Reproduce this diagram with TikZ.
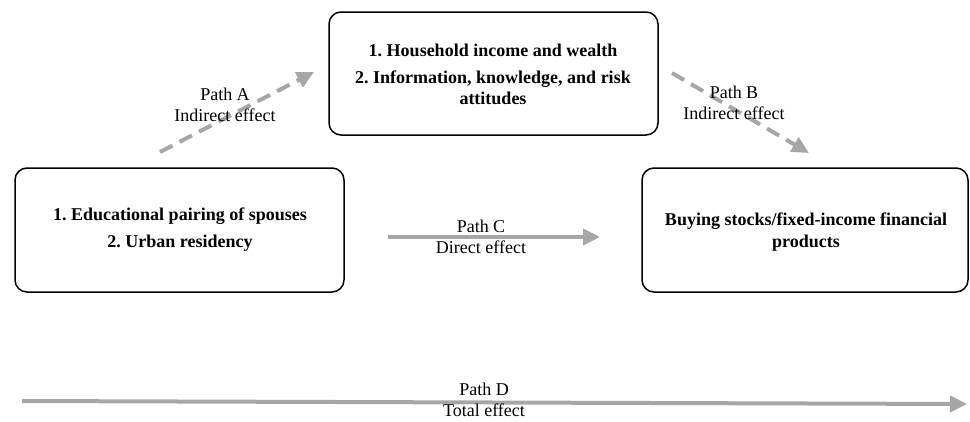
\documentclass[tikz,border=0pt]{standalone}
\usepackage{fontspec}
\setmainfont{Liberation Serif}
\usetikzlibrary{arrows.meta}
\definecolor{arrowgray}{HTML}{A6A6A6}
\frenchspacing
\begin{document}
\begin{tikzpicture}[x=1pt,y=-1pt,
  box/.style={draw=black,line width=1.5pt,rounded corners=12pt},
  boxtext/.style={font=\fontsize{18}{21.5}\selectfont\bfseries,align=center,inner sep=0pt},
  lbl/.style={font=\fontsize{18}{21.5}\selectfont,align=center,inner sep=0pt},
  patharrow/.style={draw=arrowgray,line width=4pt,-{Triangle[length=17pt,width=16pt]}},
  dasharrow/.style={patharrow,dash pattern=on 14pt off 8pt}]
\useasboundingbox (0,0) rectangle (970,421);
% boxes
\draw[box] (329,12) rectangle (658,135);
\draw[box] (15,168) rectangle (344,292);
\draw[box] (642,168) rectangle (968,292);
\node[boxtext] (top1) at (493,50) {1. Household income and wealth};
\node[boxtext] (top2) at (493,88) {2. Information, knowledge, and risk\\attitudes};
\node[boxtext] (left1) at (180,216) {1. Educational pairing of spouses};
\node[boxtext] (left2) at (180,243) {2. Urban residency};
\node[boxtext] (right) at (806,232) {Buying stocks/fixed-income financial\\products};
% arrows
\coordinate (aS) at (160,152);
\coordinate (aE) at (314,72);
\coordinate (bS) at (672,73);
\coordinate (bE) at (809,153);
\coordinate (cS) at (388,237);
\coordinate (cE) at (600,237);
\coordinate (dS) at (22,401);
\coordinate (dE) at (967,404);
\draw[dasharrow] (aS) -- (aE);
\draw[dasharrow] (bS) -- (bE);
\draw[patharrow] (cS) -- (cE);
\draw[patharrow] (dS) -- (dE);
% labels
\node[lbl] (la) at (225,105) {Path A\\Indirect effect};
\node[lbl] (lb) at (734,103) {Path B\\Indirect effect};
\node[lbl] (lc) at (481,237) {Path C\\Direct effect};
\node[lbl] (ld) at (484,400) {Path D\\Total effect};
\end{tikzpicture}
\end{document}
